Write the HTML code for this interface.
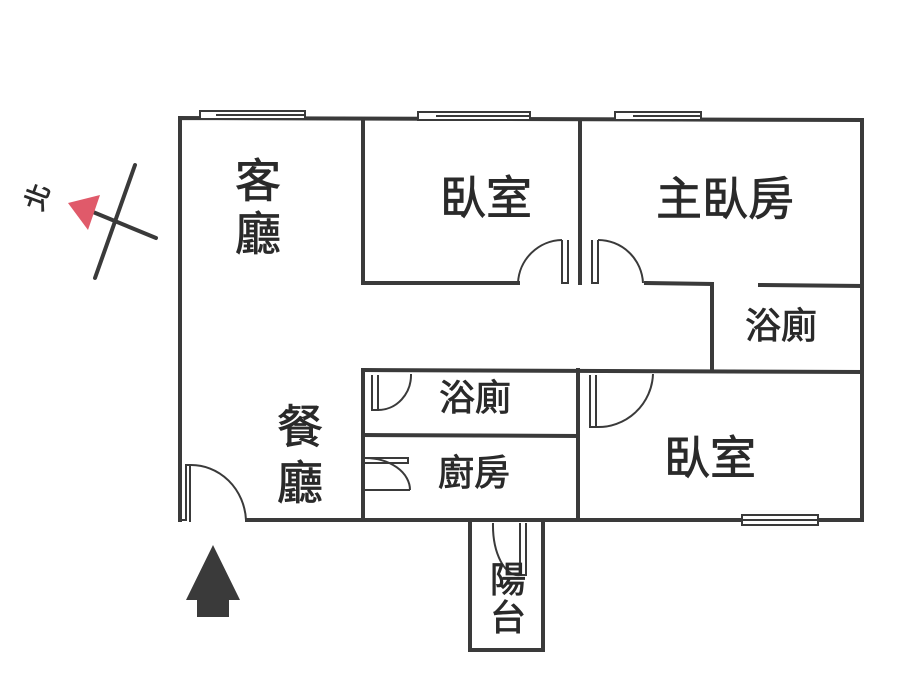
<!DOCTYPE html>
<html><head><meta charset="utf-8"><style>
html,body{margin:0;padding:0;background:#fff}
svg{display:block}
text{font-family:"Liberation Sans","Noto Sans CJK TC","Noto Sans CJK SC",sans-serif;fill:#2a2a2a;stroke:#2a2a2a;stroke-width:0.8}
</style></head><body>
<svg width="900" height="692" viewBox="0 0 900 692" xmlns="http://www.w3.org/2000/svg">
<g stroke="#3a3a3a" stroke-width="4" fill="none" stroke-linecap="square">
<polyline points="180,520 180,118 862,120 862,520 580,520"/>
<line x1="247" y1="520" x2="580" y2="520"/>
<polyline points="363,120 363,283 518,283"/>
<polyline points="580,120 580,283"/>
<line x1="646" y1="283" x2="712" y2="284"/>
<line x1="712" y1="284" x2="712" y2="368"/>
<line x1="760" y1="285" x2="862" y2="286"/>
<line x1="363" y1="370" x2="862" y2="372"/>
<line x1="363" y1="370" x2="363" y2="520"/>
<line x1="578" y1="370" x2="578" y2="520"/>
<line x1="363" y1="435" x2="578" y2="436"/>
<polyline points="470,520 470,650 543,650 543,520"/>
</g>
<g stroke="#3a3a3a" stroke-width="2" fill="none">
<polyline points="562,240 562,283 568,283 568,240"/>
<polyline points="592,240 592,283 598,283 598,240"/>
<path d="M518,283 A45,45 0 0 1 562,240"/>
<path d="M598,240 A45,45 0 0 1 643,283"/>
<polyline points="372,375 372,410 378,410 378,375"/>
<path d="M378,410 A33,35 0 0 0 411,374"/>
<polyline points="365,458 408,458 408,463 365,463"/>
<path d="M365,458 A45,32 0 0 1 410,490 M365,490 L410,490"/>
<polyline points="590,375 590,427 596,427 596,375"/>
<path d="M596,427 A55,55 0 0 0 653,374"/>
<polyline points="178,520 186,520 186,465 190,465 190,522"/>
<path d="M190,465 A55,58 0 0 1 246,520"/>
<polyline points="520,523 520,575 526,575 526,523"/>
<path d="M520,575 A25,50 0 0 1 493,523"/>
<rect x="200" y="111" width="105" height="8" fill="#fff"/>
<line x1="216" y1="115" x2="305" y2="115"/>
<rect x="418" y="112" width="112" height="8" fill="#fff"/>
<line x1="436" y1="116" x2="530" y2="116"/>
<rect x="615" y="112" width="86" height="8" fill="#fff"/>
<line x1="633" y1="116" x2="701" y2="116"/>
<rect x="742" y="515" width="76" height="10" fill="#fff"/>
<line x1="742" y1="520" x2="818" y2="520"/>
</g>
<g stroke="#3a3a3a" stroke-width="4" stroke-linecap="round">
<line x1="135" y1="165" x2="95" y2="278"/>
<line x1="93" y1="212" x2="156" y2="238"/>
</g>
<polygon points="68,203 100,195 88,230" fill="#e05a6a"/>
<text x="46" y="200" font-size="26" transform="rotate(-70 46 200)" text-anchor="middle">北</text>
<polygon points="213,545 240,600 229,600 229,617 197,617 197,600 186,600" fill="#3a3a3a"/>
<g font-size="46">
<text x="258" y="197" text-anchor="middle">客</text>
<text x="258" y="250" text-anchor="middle">廳</text>
<text x="300" y="443" text-anchor="middle">餐</text>
<text x="300" y="499" text-anchor="middle">廳</text>
<text x="486" y="214" text-anchor="middle">臥室</text>
<text x="725" y="215" text-anchor="middle">主臥房</text>
<text x="710" y="474" text-anchor="middle">臥室</text>
</g>
<g font-size="36">
<text x="781" y="338" text-anchor="middle">浴廁</text>
<text x="475" y="410" text-anchor="middle">浴廁</text>
<text x="474" y="485" text-anchor="middle">廚房</text>
<text x="508" y="592" text-anchor="middle">陽</text>
<text x="508" y="630" text-anchor="middle">台</text>
</g>
</svg>
</body></html>
